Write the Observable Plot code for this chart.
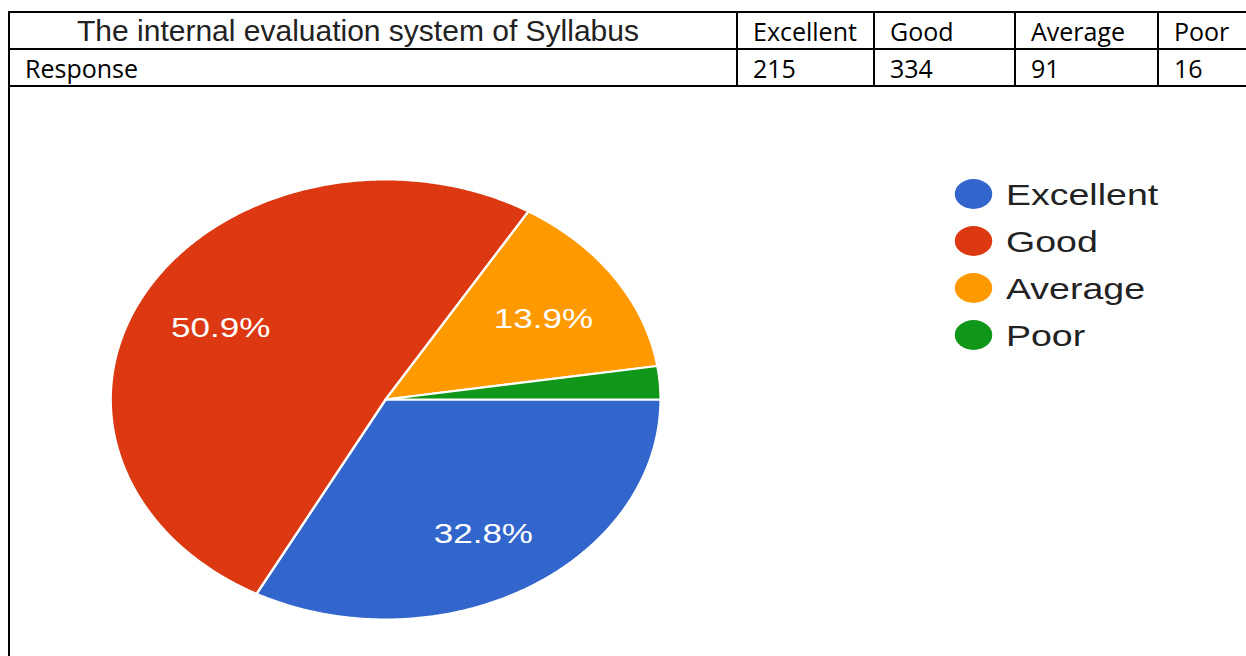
<!DOCTYPE html>
<html>
<head>
<meta charset="utf-8">
<script src="https://cdn.jsdelivr.net/npm/d3@7"></script>
<script src="https://cdn.jsdelivr.net/npm/@observablehq/plot@0.6"></script>
<style>
  html, body { margin: 0; padding: 0; background: #fff; width: 1246px; height: 656px; overflow: hidden; position: relative; }
  #tbl { position: absolute; left: 8px; top: 11px; border-collapse: collapse; table-layout: fixed; width: 1253px; }
  #tbl td { border: 2px solid #000; padding: 0 0 0 15px; height: 35px; max-height: 35px; font-family: "Open Sans", sans-serif; font-size: 25px; color: #000; white-space: nowrap; overflow: hidden; line-height: 35px; box-sizing: content-box; }
  #tbl td span { position: relative; top: 1px; }
  #tbl td.title { font-family: "Liberation Sans", Arial, sans-serif; font-size: 30px; padding-left: 67px; color: #222; }
  #tbl td.title span { top: 0; }
  #cell { position: absolute; left: 8px; top: 86px; width: 1300px; height: 600px; border-left: 2px solid #000; }
  #chart { position: absolute; left: 11px; top: 88px; width: 988px; height: 568px; transform: scaleX(1.25); transform-origin: 0 0; }
  #chart svg { position: absolute; left: 0; top: 0; }
  #legend { position: absolute; left: 755px; top: 91px; font-family: "Liberation Sans", Arial, sans-serif; font-size: 30px; color: #222; }
  #legend .row { display: flex; align-items: center; height: 30px; margin-bottom: 17px; }
  #legend .sw { width: 30px; height: 30px; border-radius: 50%; margin-right: 11px; flex: none; }
  #legend .lab { line-height: 30px; position: relative; top: 1px; }
</style>
</head>
<body>
<table id="tbl">
  <colgroup><col style="width:728px"><col style="width:137px"><col style="width:141px"><col style="width:143px"><col style="width:104px"></colgroup>
  <tbody></tbody>
</table>
<div id="cell"></div>
<div id="chart"><div id="legend"></div></div>
<script>
const headerTitle = "The internal evaluation system of Syllabus";
const rowLabel = "Response";
const categories = ["Excellent", "Good", "Average", "Poor"];
const responses = [215, 334, 91, 16];
const colors = ["#3366cc", "#dc3912", "#ff9900", "#109618"];

// Table
function cell(text, cls) {
  const td = document.createElement("td");
  if (cls) td.className = cls;
  const sp = document.createElement("span"); sp.textContent = text; td.appendChild(sp);
  return td;
}
const tbody = document.querySelector("#tbl tbody");
const r1 = document.createElement("tr");
r1.appendChild(cell(headerTitle, "title"));
categories.forEach(c => r1.appendChild(cell(c)));
const r2 = document.createElement("tr");
r2.appendChild(cell(rowLabel));
responses.forEach(v => r2.appendChild(cell(String(v))));
tbody.appendChild(r1); tbody.appendChild(r2);

// Pie geometry from data
const total = d3.sum(responses);
let acc = 0;
const slices = categories.map((c, i) => {
  const a0 = acc / total * 2 * Math.PI;
  acc += responses[i];
  const a1 = acc / total * 2 * Math.PI;
  return {category: c, value: responses[i], pct: responses[i] / total, a0, a1, mid: (a0 + a1) / 2};
});
const outline = slices.flatMap(s => {
  const n = Math.max(2, Math.ceil((s.a1 - s.a0) / (Math.PI / 360)));
  const pts = [{category: s.category, x: 0, y: 0}];
  for (let k = 0; k <= n; k++) {
    const a = s.a0 + (s.a1 - s.a0) * k / n;
    pts.push({category: s.category, x: Math.cos(a), y: Math.sin(a)});
  }
  return pts;
});

const cx = 299.2, cy = 311, r = 220;
const chart = Plot.plot({
  width: 988, height: 568, margin: 0,
  x: {domain: [-1, 1], range: [cx - r, cx + r], axis: null},
  y: {domain: [-1, 1], range: [cy - r, cy + r], axis: null},
  color: {domain: categories, range: colors},
  style: {background: "transparent", overflow: "visible"},
  marks: [
    Plot.line(outline, {x: "x", y: "y", z: "category", fill: "category", stroke: "white", strokeWidth: 2, curve: "linear-closed", strokeLinejoin: "round"}),
    Plot.text(slices.filter(s => s.pct >= 0.05), {
      x: s => 0.69 * Math.cos(s.mid), y: s => 0.69 * Math.sin(s.mid),
      text: s => d3.format(".1%")(s.pct), dy: 4,
      fill: "white", fontSize: 28, fontFamily: "Liberation Sans, Arial, sans-serif"
    })
  ]
});
document.getElementById("chart").insertBefore(chart, document.getElementById("legend"));

// Legend
const legend = document.getElementById("legend");
categories.forEach((c, i) => {
  const row = document.createElement("div"); row.className = "row";
  const sw = document.createElement("span"); sw.className = "sw"; sw.style.background = colors[i];
  const lab = document.createElement("span"); lab.className = "lab"; lab.textContent = c;
  row.appendChild(sw); row.appendChild(lab); legend.appendChild(row);
});
</script>
</body>
</html>
